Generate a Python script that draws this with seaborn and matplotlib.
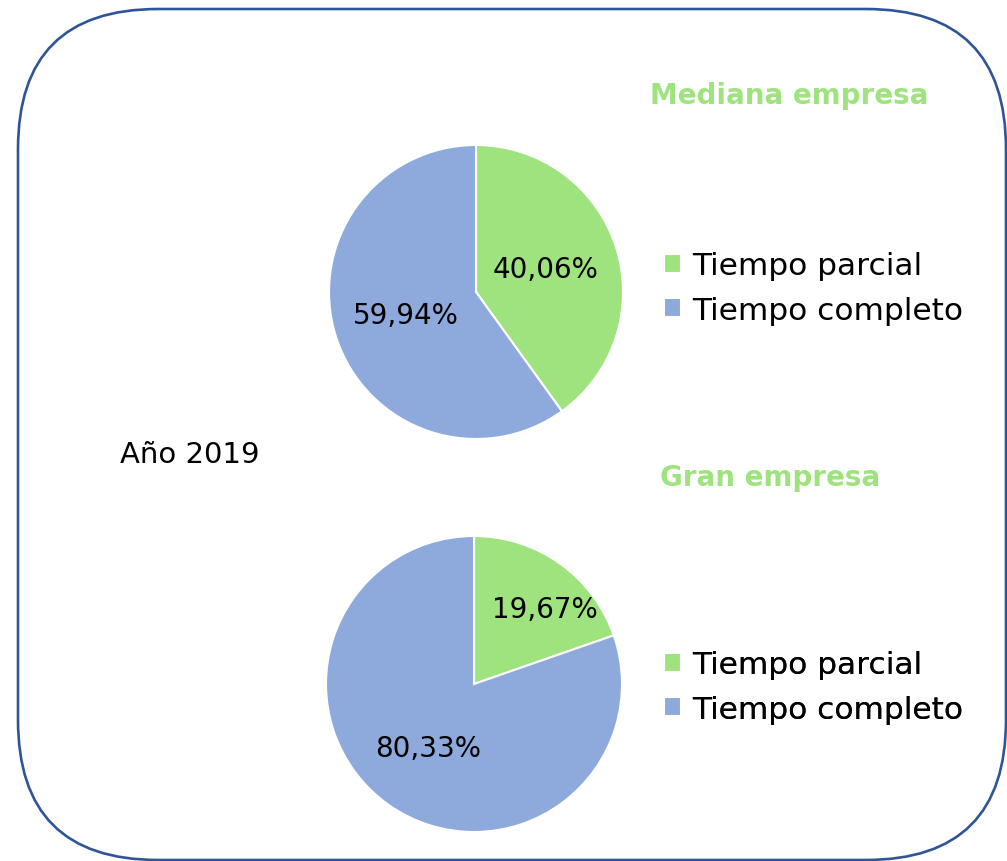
import numpy as np
import seaborn as sns
import matplotlib.pyplot as plt
from matplotlib.patches import FancyBboxPatch

# Datos
categorias = ["Tiempo parcial", "Tiempo completo"]
mediana = [40.06, 59.94]
gran = [19.67, 80.33]
titulos = ["Mediana empresa", "Gran empresa"]
anio = "Año 2019"

sns.set_theme(style="white")
plt.rcParams['font.family'] = ['DejaVu Sans']
colores = sns.color_palette(["#9fe37f", "#8eaadc"])
verde_titulo = "#9fe37f"

W, H = 1007, 862
fig = plt.figure(figsize=(W / 100, H / 100), dpi=100)

# fondo en coordenadas de pixel (y desde arriba -> H - y)
bg = fig.add_axes([0, 0, 1, 1])
bg.set_xlim(0, W)
bg.set_ylim(0, H)
bg.axis("off")

r_esq = 140
x0, x1, y_top, y_bot = 18, 1006, 10, 861
marco = FancyBboxPatch((x0 + r_esq, H - y_bot + r_esq),
                       (x1 - x0) - 2 * r_esq, (y_bot - y_top) - 2 * r_esq,
                       boxstyle=f"round,pad={r_esq}", facecolor="none",
                       edgecolor="#2f5597", linewidth=1.9)
bg.add_patch(marco)

bg.text(190, H - 455, anio, fontsize=21, ha="center", va="center", color="black")


def dibujar_pie(cx, cy, r, valores, dist, giro):
    ax = fig.add_axes([(cx - r) / W, (H - cy - r) / H, 2 * r / W, 2 * r / H])
    wedges, _, autotexts = ax.pie(
        valores, colors=colores, startangle=90, counterclock=False,
        autopct=lambda p: f"{p:.2f}%".replace(".", ","), pctdistance=0.5,
        wedgeprops=dict(edgecolor="white", linewidth=1.5),
        textprops=dict(fontsize=20, color="black"))
    for w, t, d, g in zip(wedges, autotexts, dist, giro):
        ang = np.deg2rad((w.theta1 + w.theta2) / 2 + g)
        t.set_position((d * np.cos(ang), d * np.sin(ang)))
    ax.set_xlim(-1, 1)
    ax.set_ylim(-1, 1)
    return wedges


w1 = dibujar_pie(476, 293, 147, mediana, [0.5, 0.5], [0, 0])
w2 = dibujar_pie(474, 685, 148, gran, [0.7, 0.53], [-8, 0])

bg.text(789, H - 96, titulos[0], fontsize=20, fontweight="bold", color=verde_titulo,
        ha="center", va="center")
bg.text(770, H - 478, titulos[1], fontsize=20, fontweight="bold", color=verde_titulo,
        ha="center", va="center")

for wedges, y in [(w1, 289), (w2, 688)]:
    leg = bg.legend(wedges, categorias, loc="center left", bbox_to_anchor=(664, H - y),
                    bbox_transform=bg.transData, frameon=False, fontsize=22.5,
                    handlelength=0.55, handleheight=0.55, handletextpad=0.35,
                    labelspacing=0.5, borderpad=0, borderaxespad=0,
                    labelcolor="black")
    bg.add_artist(leg)

fig.savefig("out.png", dpi=100)
